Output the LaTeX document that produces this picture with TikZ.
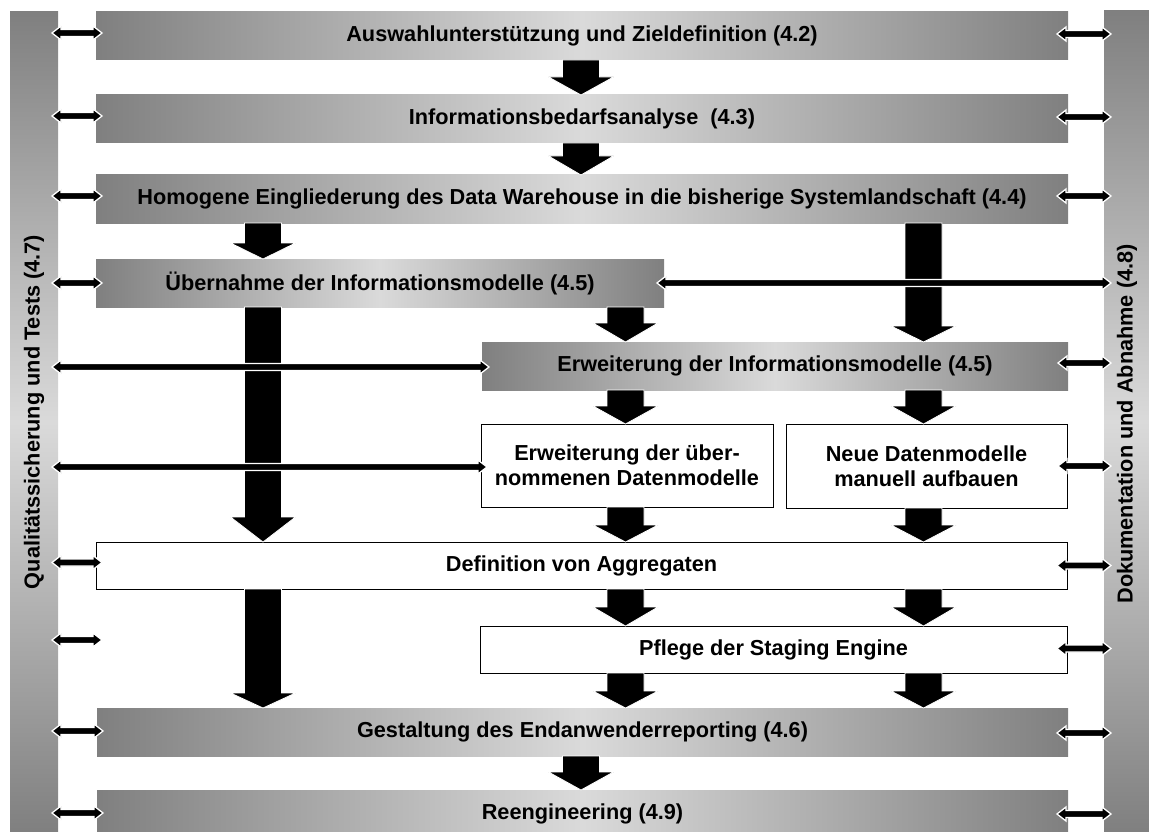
\documentclass[tikz,border=0pt]{standalone}
\usepackage{fontspec}
\setmainfont{Liberation Sans}
\usetikzlibrary{calc}

\definecolor{shadeDark}{gray}{0.5}
\definecolor{shadeLight}{gray}{0.855}
\newcommand\labelfont{\fontsize{21.7}{25}\selectfont\bfseries}

\tikzset{
  stage/.style={rectangle, inner sep=0pt, outer sep=0pt, font=\labelfont, align=center,
    left color=shadeDark, right color=shadeDark, middle color=shadeLight},
  task/.style={rectangle, draw=black, line width=0.8pt, fill=white, inner sep=0pt,
    outer sep=0pt, font=\labelfont, align=center},
  sidebar/.style={rectangle, inner sep=0pt, outer sep=0pt,
    top color=shadeDark, bottom color=shadeDark, middle color=shadeLight},
  sidelabel/.style={rotate=90, font=\labelfont, inner sep=0pt},
  flowarrow/.style={fill=black, draw=white, line width=0.8pt, line join=miter},
  linkarrow/.style={fill=black, draw=white, line width=1.3pt, line join=miter},
}

% broad downward arrow: column, upper node, lower node, head length
\newcommand\flowdrop[4]{%
  \filldraw[flowarrow] let \p0=(#1), \p1=(#2.south), \p2=(#3.north) in
    (\x0-18.5pt,\y1) -- (\x0-18.5pt,\y2+#4pt) -- (\x0-32.5pt,\y2+#4pt) -- (\x0,\y2)
    -- (\x0+32.5pt,\y2+#4pt) -- (\x0+18.5pt,\y2+#4pt) -- (\x0+18.5pt,\y1) -- cycle;}

% slim horizontal arrow with a head at both ends
\newcommand\linkboth[2]{%
  \filldraw[linkarrow] let \p1=(#1), \p2=(#2) in
    (\x1,\y1) -- (\x1+9pt,\y1+7pt) -- (\x1+9pt,\y1+3.5pt) -- (\x2-9pt,\y1+3.5pt)
    -- (\x2-9pt,\y1+7pt) -- (\x2,\y1) -- (\x2-9pt,\y1-7pt) -- (\x2-9pt,\y1-3.5pt)
    -- (\x1+9pt,\y1-3.5pt) -- (\x1+9pt,\y1-7pt) -- cycle;}

\begin{document}
\begin{tikzpicture}[x=1pt, y=-1pt]
\useasboundingbox (0,0) rectangle (1149,832);
\clip (0,0) rectangle (1149,832);

% side bars
\node[sidebar, minimum width=48pt, minimum height=820pt] (qs) at (34,422) {};
\node[sidebar, minimum width=45pt, minimum height=821pt] (doc) at (1126.5,421.5) {};
\node[sidelabel] (qs-label) at (34,412) {Qualitätssicherung und Tests (4.7)};
\node[sidelabel] (doc-label) at (1127,424) {Dokumentation und Abnahme (4.8)};

% phases
\node[stage, minimum width=972pt, minimum height=48pt] (b1) at (582,36)
  {Auswahlunterstützung und Zieldefinition (4.2)};
\node[stage, minimum width=972pt, minimum height=48pt] (b2) at (582,119)
  {Informationsbedarfsanalyse\ \ (4.3)};
\node[stage, minimum width=972pt, minimum height=48pt] (b3) at (582,199)
  {Homogene Eingliederung des Data Warehouse in die bisherige Systemlandschaft (4.4)};
\node[stage, minimum width=568pt, minimum height=48pt] (b4) at (380,283)
  {Übernahme der Informationsmodelle (4.5)};
\node[stage, minimum width=586pt, minimum height=48pt] (b5) at (775,366)
  {Erweiterung der Informationsmodelle (4.5)};
\node[task, minimum width=292pt, minimum height=83pt] (w1) at (627,465.5)
  {Erweiterung der über-\\nommenen Datenmodelle};
\node[task, minimum width=281pt, minimum height=84pt] (w2) at (926.5,466)
  {Neue Datenmodelle\\manuell aufbauen};
\node[task, minimum width=971pt, minimum height=47pt] (b6) at (581.5,565.5)
  {Definition von Aggregaten};
\node[task, minimum width=587pt, minimum height=47pt] (b7) at (773.5,649.5)
  {Pflege der Staging Engine};
\node[stage, minimum width=971pt, minimum height=48pt] (b8) at (582.5,732)
  {Gestaltung des Endanwenderreporting (4.6)};
\node[stage, minimum width=971pt, minimum height=48pt] (b9) at (582.5,814)
  {Reengineering (4.9)};

% arrow columns
\coordinate (colA) at (581,0);
\coordinate (colL) at (263,0);
\coordinate (colM) at (625.5,0);
\coordinate (colR) at (923.5,0);
\coordinate (pfl-free) at (102,640);

% broad flow arrows
\flowdrop{colA}{b1}{b2}{18}
\flowdrop{colA}{b2}{b3}{19}
\flowdrop{colA}{b8}{b9}{18}
\flowdrop{colL}{b3}{b4}{16}
\flowdrop{colL}{b4}{b6}{25}
\flowdrop{colL}{b6}{b8}{15}
\flowdrop{colM}{b4}{b5}{19}
\flowdrop{colM}{b5}{w1}{18}
\flowdrop{colM}{w1}{b6}{17}
\flowdrop{colM}{b6}{b7}{19}
\flowdrop{colM}{b7}{b8}{17}
\flowdrop{colR}{b3}{b5}{16}
\flowdrop{colR}{b5}{w2}{18}
\flowdrop{colR}{w2}{b6}{17}
\flowdrop{colR}{b6}{b7}{19}
\flowdrop{colR}{b7}{b8}{17}

% links to quality assurance (left)
\linkboth{$(qs.east |- b1)+(-6,-3)$}{$(b1.west)+(6,-3)$}
\linkboth{$(qs.east |- b2)+(-6,-3)$}{$(b2.west)+(6,-3)$}
\linkboth{$(qs.east |- b3)+(-6,-3)$}{$(b3.west)+(6,-3)$}
\linkboth{$(qs.east |- b4)+(-6,0)$}{$(b4.west)+(6,0)$}
\linkboth{$(qs.east |- b5)+(-6,1)$}{$(b5.west)+(7,1)$}
\linkboth{$(qs.east |- w1)+(-6,1.5)$}{$(w1.west)+(6,1.5)$}
\linkboth{$(qs.east |- b6)+(-6,-3)$}{$(b6.west)+(6,-3)$}
\linkboth{$(qs.east |- pfl-free)+(-6,0)$}{pfl-free}
\linkboth{$(qs.east |- b8)+(-6,-1)$}{$(b8.west)+(6,-1)$}
\linkboth{$(qs.east |- b9)+(-6,-1)$}{$(b9.west)+(6,-1)$}

% links to documentation (right)
\linkboth{$(b1.east)+(-11,-2)$}{$(doc.west |- b1)+(7,-2)$}
\linkboth{$(b2.east)+(-11,-2)$}{$(doc.west |- b2)+(7,-2)$}
\linkboth{$(b3.east)+(-11,-3)$}{$(doc.west |- b3)+(7,-3)$}
\linkboth{$(b4.east)+(-7,0)$}{$(doc.west |- b4)+(7,0)$}
\linkboth{$(b5.east)+(-10,-3)$}{$(doc.west |- b5)+(7,-3)$}
\linkboth{$(w2.east)+(-9,0)$}{$(doc.west |- w2)+(7,0)$}
\linkboth{$(b6.east)+(-10,0)$}{$(doc.west |- b6)+(7,0)$}
\linkboth{$(b7.east)+(-10,-1)$}{$(doc.west |- b7)+(7,-1)$}
\linkboth{$(b8.east)+(-11,1)$}{$(doc.west |- b8)+(7,1)$}
\linkboth{$(b9.east)+(-11,0)$}{$(doc.west |- b9)+(7,0)$}
\end{tikzpicture}
\end{document}
